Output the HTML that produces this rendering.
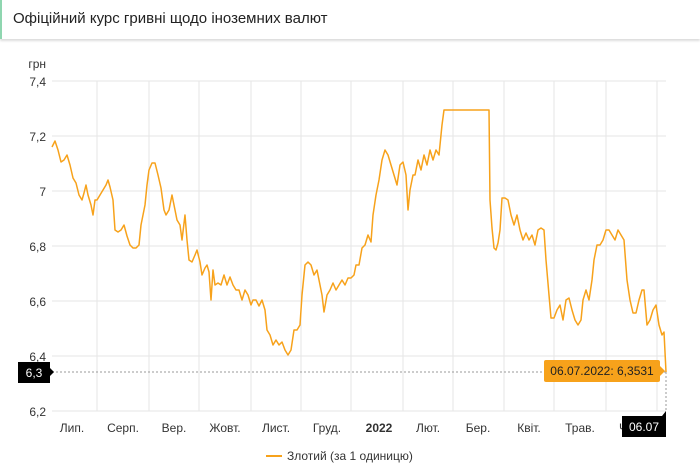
<!DOCTYPE html>
<html><head><meta charset="utf-8"><style>
body{margin:0;width:700px;height:473px;background:#fff;font-family:"Liberation Sans",sans-serif;overflow:hidden;position:relative}
.hdr{position:absolute;left:0;top:0;width:700px;height:39px;border-left:2px solid #8fd6b0;box-shadow:0 2px 2px #ddd;box-sizing:border-box}
.hdr span{position:absolute;left:11px;top:10px;font-size:15px;color:#222}
</style></head><body>
<div class="hdr"><span>Офіційний курс гривні щодо іноземних валют</span></div>
<svg width="700" height="473" style="position:absolute;left:0;top:0" font-family="Liberation Sans, sans-serif">
<g stroke="#e6e6e6" stroke-width="1">
<line x1="52" y1="81" x2="666" y2="81"/><line x1="52" y1="136" x2="666" y2="136"/><line x1="52" y1="191" x2="666" y2="191"/><line x1="52" y1="246" x2="666" y2="246"/><line x1="52" y1="301" x2="666" y2="301"/><line x1="52" y1="356" x2="666" y2="356"/><line x1="52" y1="411" x2="666" y2="411"/>
<line x1="97" y1="81" x2="97" y2="411"/><line x1="149" y1="81" x2="149" y2="411"/><line x1="199" y1="81" x2="199" y2="411"/><line x1="251" y1="81" x2="251" y2="411"/><line x1="301" y1="81" x2="301" y2="411"/><line x1="351" y1="81" x2="351" y2="411"/><line x1="403" y1="81" x2="403" y2="411"/><line x1="453" y1="81" x2="453" y2="411"/><line x1="504" y1="81" x2="504" y2="411"/><line x1="554" y1="81" x2="554" y2="411"/><line x1="606" y1="81" x2="606" y2="411"/><line x1="657" y1="81" x2="657" y2="411"/>
</g>
<g font-size="12" fill="#333" text-anchor="end">
<text x="46" y="68">грн</text>
<text x="46" y="86">7,4</text><text x="46" y="141">7,2</text><text x="46" y="196">7</text><text x="46" y="251">6,8</text><text x="46" y="306">6,6</text><text x="46" y="361">6,4</text><text x="46" y="416">6,2</text>
</g>
<g font-size="12" fill="#333" text-anchor="middle">
<text x="72" y="432">Лип.</text><text x="123" y="432">Серп.</text><text x="174" y="432">Вер.</text><text x="225" y="432">Жовт.</text><text x="276" y="432">Лист.</text><text x="327" y="432">Груд.</text><text x="379" y="432" font-weight="bold">2022</text><text x="428" y="432">Лют.</text><text x="478" y="432">Бер.</text><text x="529" y="432">Квіт.</text><text x="580" y="432">Трав.</text><text x="623" y="432">Ч</text>
</g>
<line x1="52" y1="372" x2="666" y2="372" stroke="#999" stroke-dasharray="2,2"/>
<line x1="666" y1="372" x2="666" y2="411" stroke="#999" stroke-dasharray="2,2"/>
<polyline fill="none" stroke="#f7a21b" stroke-width="1.5" stroke-linejoin="round" points="52,147 55,141 58,150 61,162 64,160 67,155 70,165 73,178 76,183 79,195 82,200 84,193 86,185 88,195 91,205 93,215 95,200 97,200 100,195 103,190 106,185 108,180 110,187 113,200 115,230 118,232 121,230 124,225 127,236 130,245 133,248 136,248 139,245 141,225 143,215 145,205 147,185 149,170 152,163 155,163 158,175 161,188 164,210 166,215 169,210 172,195 175,210 177,220 180,225 182,240 185,215 187,240 189,260 192,262 195,255 197,250 200,262 202,275 205,268 207,265 209,272 211,300 213,270 215,285 218,283 221,285 224,275 227,285 230,277 233,285 236,290 239,290 242,300 245,290 248,295 251,305 253,300 256,300 259,306 262,300 265,310 267,330 270,335 273,345 276,340 279,345 282,342 285,350 288,355 291,350 294,330 297,330 300,325 302,295 305,265 308,262 311,265 314,275 317,270 319,280 322,295 324,312 327,295 330,290 333,283 336,290 339,285 342,280 345,285 348,278 351,278 354,275 356,265 359,265 362,248 365,245 368,235 371,242 373,215 376,195 379,180 382,160 385,150 388,155 391,165 394,175 397,185 400,165 403,162 406,175 408,210 410,190 413,175 415,175 418,160 421,170 424,155 427,165 430,150 433,160 436,150 439,155 442,125 444,110 489,110 490,200 492,228 494,248 496,250 498,243 500,230 502,198 505,198 508,200 511,215 514,225 517,215 520,230 523,240 526,233 529,240 532,235 535,245 538,230 541,228 544,230 546,260 549,295 551,318 554,318 557,310 560,305 563,320 566,300 569,298 572,310 575,320 578,325 581,320 583,300 586,290 589,300 592,280 594,260 597,245 600,245 603,240 606,230 609,230 612,235 615,240 618,230 621,235 624,240 627,280 630,300 633,313 636,313 639,300 642,290 644,290 647,325 650,320 653,310 656,305 659,325 662,335 664,332 666,372"/>
<rect x="18" y="362" width="32" height="21" fill="#000"/><polygon points="50,368 54,372 50,376" fill="#000"/>
<text x="34" y="377" font-size="12" fill="#fff" text-anchor="middle">6,3</text>
<rect x="544" y="360" width="116" height="22" rx="2" fill="#f7a21b"/><polygon points="660,366 665,371 660,376" fill="#f7a21b"/>
<text x="602" y="375" font-size="12" fill="#222" text-anchor="middle">06.07.2022: 6,3531</text>
<rect x="622" y="416" width="44" height="21" fill="#000"/><polygon points="662,416 666,411 666,416" fill="#000"/>
<text x="644" y="431" font-size="12" fill="#fff" text-anchor="middle">06.07</text>
<line x1="266" y1="456" x2="282" y2="456" stroke="#f7a21b" stroke-width="2"/>
<text x="287" y="460" font-size="12" fill="#333">Злотий (за 1 одиницю)</text>
</svg>
</body></html>
